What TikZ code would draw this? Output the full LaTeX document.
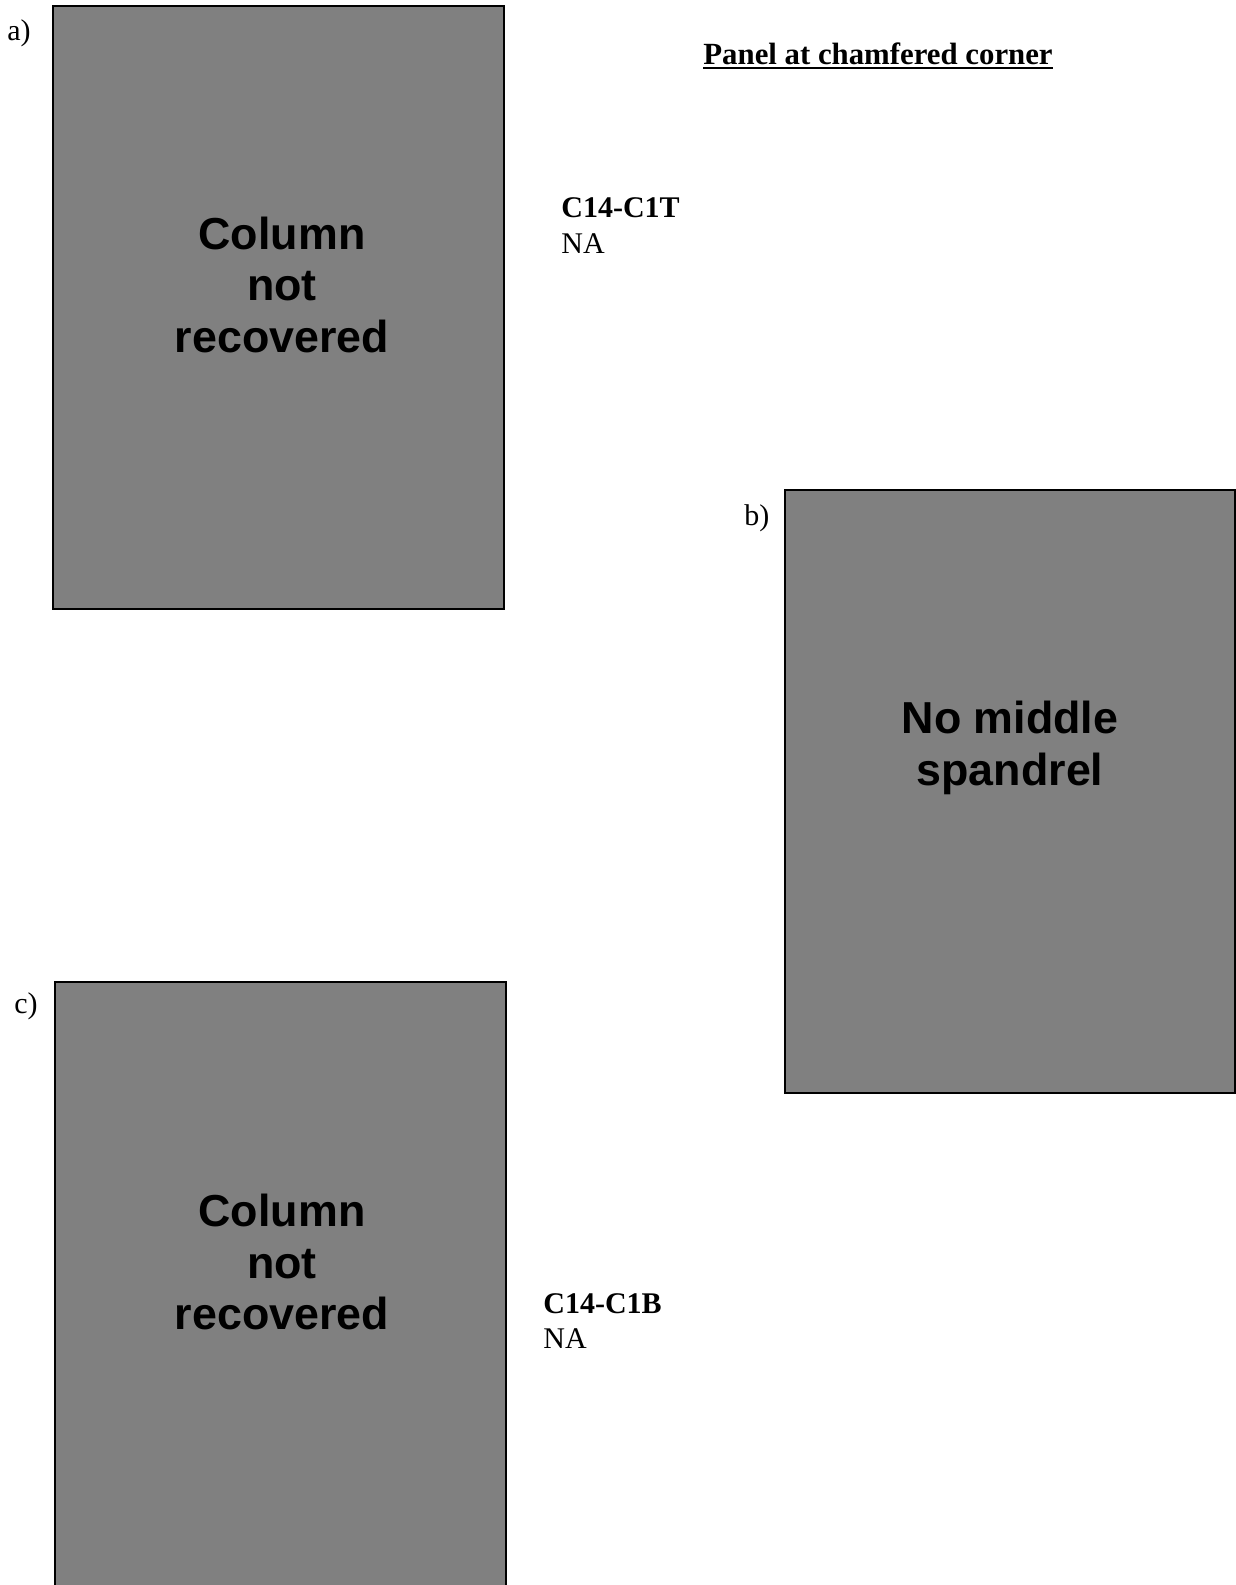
\documentclass[tikz,border=0pt]{standalone}
\usepackage{fontspec}
\setmainfont{Liberation Serif}
\newfontfamily\arialbf{Liberation Sans}[BoldFont={Liberation Sans Bold}]
\definecolor{panelgray}{RGB}{128,128,128}
\begin{document}
\begin{tikzpicture}[x=0.5pt,y=-0.5pt,
  panel/.style={fill=panelgray,draw=black,line width=1pt},
  lbl/.style={anchor=base west,inner sep=0pt,font=\fontsize{15}{18}\selectfont},
  bold/.style={anchor=base west,inner sep=0pt,font=\fontsize{15}{18}\selectfont\bfseries},
  boxtxt/.style={anchor=base,inner sep=0pt,font=\fontsize{22.4}{26}\selectfont\arialbf\bfseries}]
\useasboundingbox (0,0) rectangle (1236,1585);
% panels
\draw[panel] (53,6) rectangle (504,609);
\draw[panel] (785,490) rectangle (1235,1093);
\draw[panel] (55,982) rectangle (506,1600);
% panel labels
\node[lbl] (la) at (7,40) {a)};
\node[lbl] (lb) at (744,525) {b)};
\node[lbl] (lc) at (14,1013) {c)};
% title
\node[bold,font=\fontsize{15.4}{18}\selectfont\bfseries] (title) at (703,64) {Panel at chamfered corner};
\draw[line width=1pt] ([yshift=-1.8pt]title.base west) -- ([yshift=-1.8pt]title.base east);
% side texts
\node[bold] (ta) at (561,217) {C14-C1T};
\node[lbl] (na) at (561,253) {NA};
\node[bold] (tc) at (543,1313) {C14-C1B};
\node[lbl] (nc) at (543,1348) {NA};
% box texts
\node[boxtxt] (a1) at (282,249) {Column};
\node[boxtxt] (a2) at (282,300) {not};
\node[boxtxt] (a3) at (282,352) {recovered};
\node[boxtxt] (b1) at (1010,733) {No middle};
\node[boxtxt] (b2) at (1010,785) {spandrel};
\node[boxtxt] (c1) at (282,1226) {Column};
\node[boxtxt] (c2) at (282,1278) {not};
\node[boxtxt] (c3) at (282,1329) {recovered};
\end{tikzpicture}
\end{document}
